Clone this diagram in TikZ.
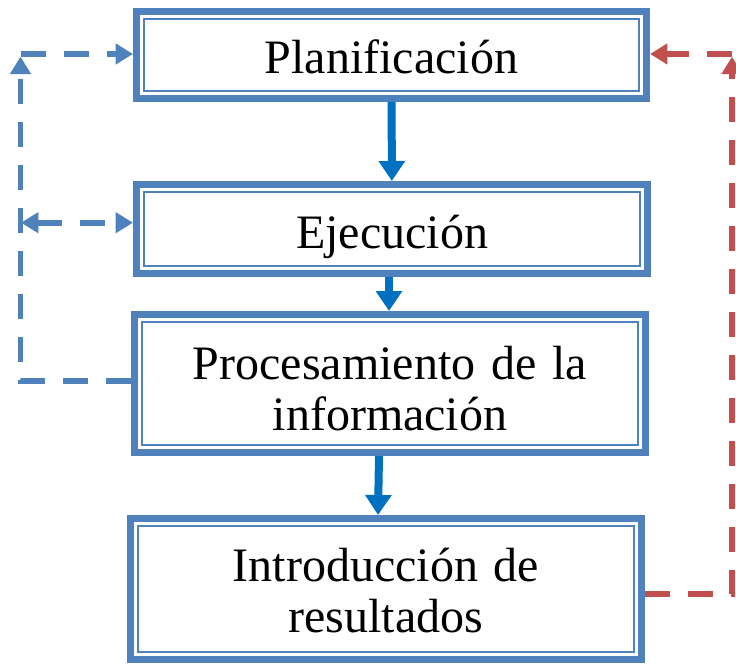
\documentclass[tikz,border=0pt]{standalone}
\usepackage{fontspec}
\setmainfont{Liberation Serif}
\usetikzlibrary{arrows.meta}
\usetikzlibrary{calc}
\definecolor{boxblue}{HTML}{4F81BD}
\definecolor{flowblue}{HTML}{0070C0}
\definecolor{backred}{HTML}{C0504D}
\tikzset{
box/.style={
  rectangle,
  draw=boxblue,
  line width=5.25pt,
  fill=white,
  text width=360pt,
  align=center,
  font=\fontsize{36pt}{38.25pt}\selectfont,
  text height=28.5pt,
  text depth=0pt
  },
thinline/.style={draw=boxblue, line width=1.5pt},
flow/.style={draw=flowblue, line width=6pt, -{Triangle[width=19pt,length=15pt]}},
fb/.style={line width=4.2pt, dash pattern=on 18.75pt off 13.5pt,
  -{Triangle[width=15pt,length=13pt]}},
fbboth/.style={{Triangle[width=15pt,length=13pt]}-{Triangle[width=15pt,length=13pt]}}
}
\begin{document}
\begin{tikzpicture}[x=0.75pt,y=-0.75pt]
\useasboundingbox (0,0) rectangle (736,664);
\node[box] (plan) at (391.5,54.75) [minimum width=382.5pt,minimum height=65.6pt] {Planificación};
\node[box] (ejec) at (392,229) [minimum width=383.25pt,minimum height=66.75pt] {Ejecución};
\node[box] (proc) at (390,383.5) [minimum width=383.25pt,minimum height=103.5pt,text depth=35.25pt] {Procesamiento de la\\información};
\node[box] (intro) at (386,589) [minimum width=383.25pt,minimum height=105.75pt,text depth=40.5pt] {Introducción de\\resultados};
% inner thin border
\foreach \n in {plan,ejec,proc,intro}
  \draw[thinline] ($(\n.south west)+(8.5pt,8.5pt)$) rectangle ($(\n.north east)-(8.5pt,8.5pt)$);
\draw[flow] (plan) -- (ejec);
\draw[flow] ([xshift=-2.25pt]ejec.south) -- ([xshift=-0.75pt]proc.north);
\draw[flow] ([xshift=-8.25pt]proc.south) -- ([xshift=-6pt]intro.north);
% feedback loops
\coordinate (lcorner) at (20.5,54);
\coordinate (lmid) at (21,222.7);
\coordinate (rcorner) at (732,54);
\draw[fb,draw=boxblue,shorten >=2pt] ([yshift=1.9pt]proc.west) -| (lcorner);
\draw[fb,draw=boxblue] (lcorner) -- (lcorner -| plan.west);
\draw[fb,draw=boxblue,fbboth] (lmid) -- (lmid -| ejec.west);
\draw[fb,draw=backred,shorten >=2pt] ([yshift=-3.75pt]intro.east) -| (rcorner);
\draw[fb,draw=backred] (rcorner) -- (rcorner -| plan.east);
\end{tikzpicture}
\end{document}
